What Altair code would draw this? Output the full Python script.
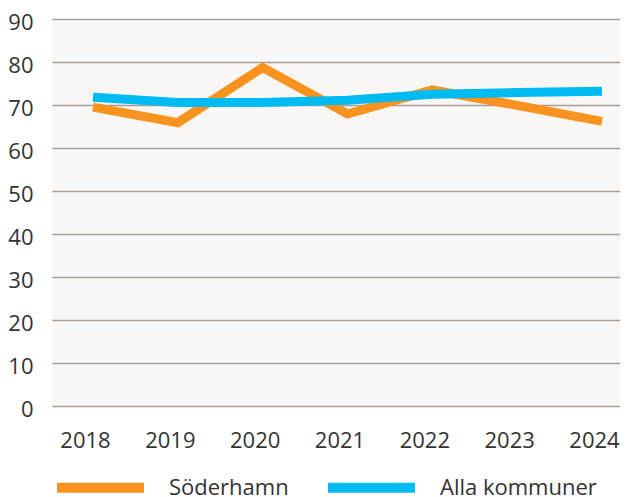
import altair as alt
import pandas as pd

years = [2018, 2019, 2020, 2021, 2022, 2023, 2024]
soderhamn = [69.5, 65.9, 78.7, 67.9, 73.5, 69.9, 66.2]
alla = [71.8, 70.6, 70.6, 71.1, 72.5, 72.9, 73.2]
series = ["Söderhamn", "Alla kommuner"]
colors = ["#F7931E", "#00BBF1"]
y_ticks = [0, 10, 20, 30, 40, 50, 60, 70, 80, 90]

df = pd.DataFrame(
    {"year": years * 2,
     "value": soderhamn + alla,
     "series": [series[0]] * len(years) + [series[1]] * len(years)}
)

FONT = "Open Sans"
TEXT = "#333333"
FS = 22

x = alt.X("year:Q",
          scale=alt.Scale(domain=[2017.5167, 2024.2125], nice=False, zero=False),
          axis=alt.Axis(values=years, format="d", title=None, grid=False, ticks=False,
                        domain=False, labelFontSize=FS, labelFont=FONT, labelColor=TEXT,
                        labelPadding=24, labelBaseline="top", labelOffset=-8,
                        labelFlush=False))
y = alt.Y("value:Q",
          scale=alt.Scale(domain=[0, 90], nice=False),
          axis=alt.Axis(values=y_ticks, title=None, ticks=False, domain=False,
                        labelFontSize=FS, labelFont=FONT, labelColor=TEXT,
                        labelPadding=19, labelOffset=3, gridColor="#A89E97",
                        gridWidth=1.3, minExtent=44, maxExtent=44))
color = alt.Color("series:N",
                  scale=alt.Scale(domain=series, range=colors),
                  legend=alt.Legend(title=None, orient="none", direction="horizontal",
                                    legendX=0, legendY=420, symbolType="stroke",
                                    symbolStrokeWidth=10, symbolSize=7569,
                                    labelFontSize=FS, labelFont=FONT, labelColor=TEXT,
                                    labelOffset=20, columnPadding=19))

base = alt.Chart(df).mark_line(strokeWidth=9, strokeCap="butt", strokeJoin="miter")

l1 = base.transform_filter(alt.datum.series == series[0]).encode(x=x, y=y, color=color)
l2 = base.transform_filter(alt.datum.series == series[1]).encode(x=x, y=y, color=color)

chart = alt.layer(l1, l2).properties(
    width=568, height=387,
    autosize=alt.AutoSizeParams(type="none"),
    padding={"left": 44, "top": 11, "right": 0, "bottom": 90},
).configure_view(fill="#F8F7F5", stroke=None)

chart.save("out.html", embed_options={"renderer": "svg", "actions": False})
